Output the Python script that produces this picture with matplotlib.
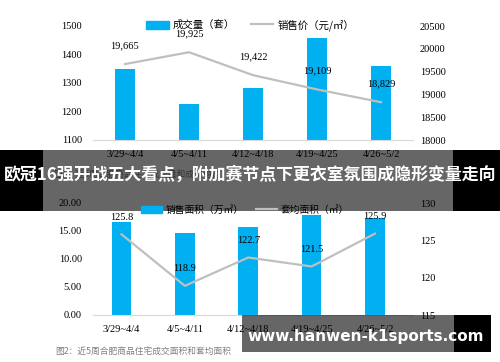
import matplotlib
matplotlib.use("Agg")
import matplotlib.pyplot as plt
from matplotlib.patches import Rectangle, Patch
from matplotlib.lines import Line2D

weeks = ["3/29~4/4", "4/5~4/11", "4/12~4/18", "4/19~4/25", "4/26~5/2"]
volume = [1349, 1226, 1282, 1458, 1360]          # 成交量（套）
price = [19665, 19925, 19422, 19109, 18829]      # 销售价（元/㎡）
area = [16.6, 14.6, 15.7, 17.9, 17.4]            # 销售面积（万㎡）
avg_area = [125.8, 118.9, 122.7, 121.5, 125.9]   # 套均面积（㎡）

W, H = 500, 362
BLUE = "#00b0f0"
GREY = "#bfbfbf"
SERIF = "Liberation Serif"
CJK = ["Noto Sans CJK SC", "DejaVu Sans"]


def px(x, y):
    return x / W, 1 - y / H


def style(ax, ax2):
    for a in (ax, ax2):
        for s in a.spines.values():
            s.set_visible(False)
        a.tick_params(length=0, labelsize=7.5)
        for lab in a.get_yticklabels() + a.get_xticklabels():
            lab.set_fontfamily(SERIF)
    ax.spines["bottom"].set_visible(True)
    ax.spines["bottom"].set_color("#d9d9d9")
    ax.tick_params(axis="y", pad=8)
    ax.tick_params(axis="x", pad=7)
    ax2.tick_params(axis="y", pad=5)


fig = plt.figure(figsize=(W / 100, H / 100), dpi=100)
x = range(len(weeks))

# --- chart 1
ax = fig.add_axes([93 / W, 1 - 140 / H, 320 / W, 114 / H])
ax.bar(x, volume, width=0.31, color=BLUE)
ax.set_ylim(1100, 1500)
ax.set_yticks(range(1100, 1501, 100))
ax.set_xlim(-0.5, 4.5)
ax.set_xticks(list(x))
ax.set_xticklabels(weeks)
ax2 = ax.twinx()
ax2.plot(x, price, color=GREY, lw=1.6)
ax2.set_ylim(18000, 20500)
ax2.set_yticks(range(18000, 20501, 500))
for i, v in enumerate(price):
    ax2.annotate(f"{v:,}", (i, v), xytext=(0, 10), textcoords="offset points",
                 ha="center", va="bottom", fontsize=7.5, family=SERIF)
style(ax, ax2)
fig.legend([Patch(color=BLUE), Line2D([], [], color=GREY, lw=1.6)],
           ["成交量（套）", "销售价（元/㎡）"], loc="center",
           bbox_to_anchor=px(250, 25), ncol=2, frameon=False,
           prop={"family": CJK, "size": 7.5}, handlelength=2.2,
           handleheight=0.8, columnspacing=1.5, handletextpad=0.4)

# --- chart 2
bx = fig.add_axes([93 / W, 1 - 315 / H, 320 / W, 112 / H])
bx.bar(x, area, width=0.31, color=BLUE)
bx.set_ylim(0, 20)
bx.set_yticks(range(0, 21, 5))
bx.set_yticklabels([f"{v:.2f}" for v in range(0, 21, 5)])
bx.set_xlim(-0.45, 4.6)
bx.set_xticks(list(x))
bx.set_xticklabels(weeks)
bx2 = bx.twinx()
bx2.plot(x, avg_area, color=GREY, lw=1.6)
bx2.set_ylim(115, 130)
bx2.set_yticks(range(115, 131, 5))
for i, v in enumerate(avg_area):
    bx2.annotate(f"{v}", (i, v), xytext=(0, 9), textcoords="offset points",
                 ha="center", va="bottom", fontsize=7.5, family=SERIF)
style(bx, bx2)
fig.legend([Patch(color=BLUE), Line2D([], [], color=GREY, lw=1.6)],
           ["销售面积（万㎡）", "套均面积（㎡）"], loc="center",
           bbox_to_anchor=px(245, 210), ncol=2, frameon=False,
           prop={"family": CJK, "size": 7}, handlelength=2.2,
           handleheight=0.8, columnspacing=1.2, handletextpad=0.4)

fig.text(*px(53, 174), "图1：近5周合肥商品住宅成交量和成交均价", fontsize=6.3,
         color="#7f7f7f", family=CJK, va="center", zorder=2)
fig.text(*px(55, 351), "图2：近5周合肥商品住宅成交面积和套均面积", fontsize=6.3,
         color="#7f7f7f", family=CJK, va="center", zorder=2)

# --- overlays
def box(x0, y0, x1, y1, alpha):
    fig.patches.append(Rectangle(px(x0, y1), (x1 - x0) / W, (y1 - y0) / H,
                                 transform=fig.transFigure, color="black",
                                 alpha=alpha, lw=0, zorder=5))

box(0, 150, 43, 211, 1)
box(453, 150, 500, 211, 1)
box(43, 150, 453, 211, 0.6)
box(242, 315, 454, 352, 0.6)
box(454, 315, 491, 352, 1)

fig.text(*px(250, 175), "欧冠16强开战五大看点，附加赛节点下更衣室氛围成隐形变量走向",
         fontsize=12.2, fontweight="bold", color="white", family=CJK,
         ha="center", va="center", zorder=6)
fig.text(*px(366, 337), "www.hanwen-k1sports.com", fontsize=11,
         fontweight="bold", color="white", ha="center", va="center", zorder=6)

fig.savefig("out.png", dpi=100)
